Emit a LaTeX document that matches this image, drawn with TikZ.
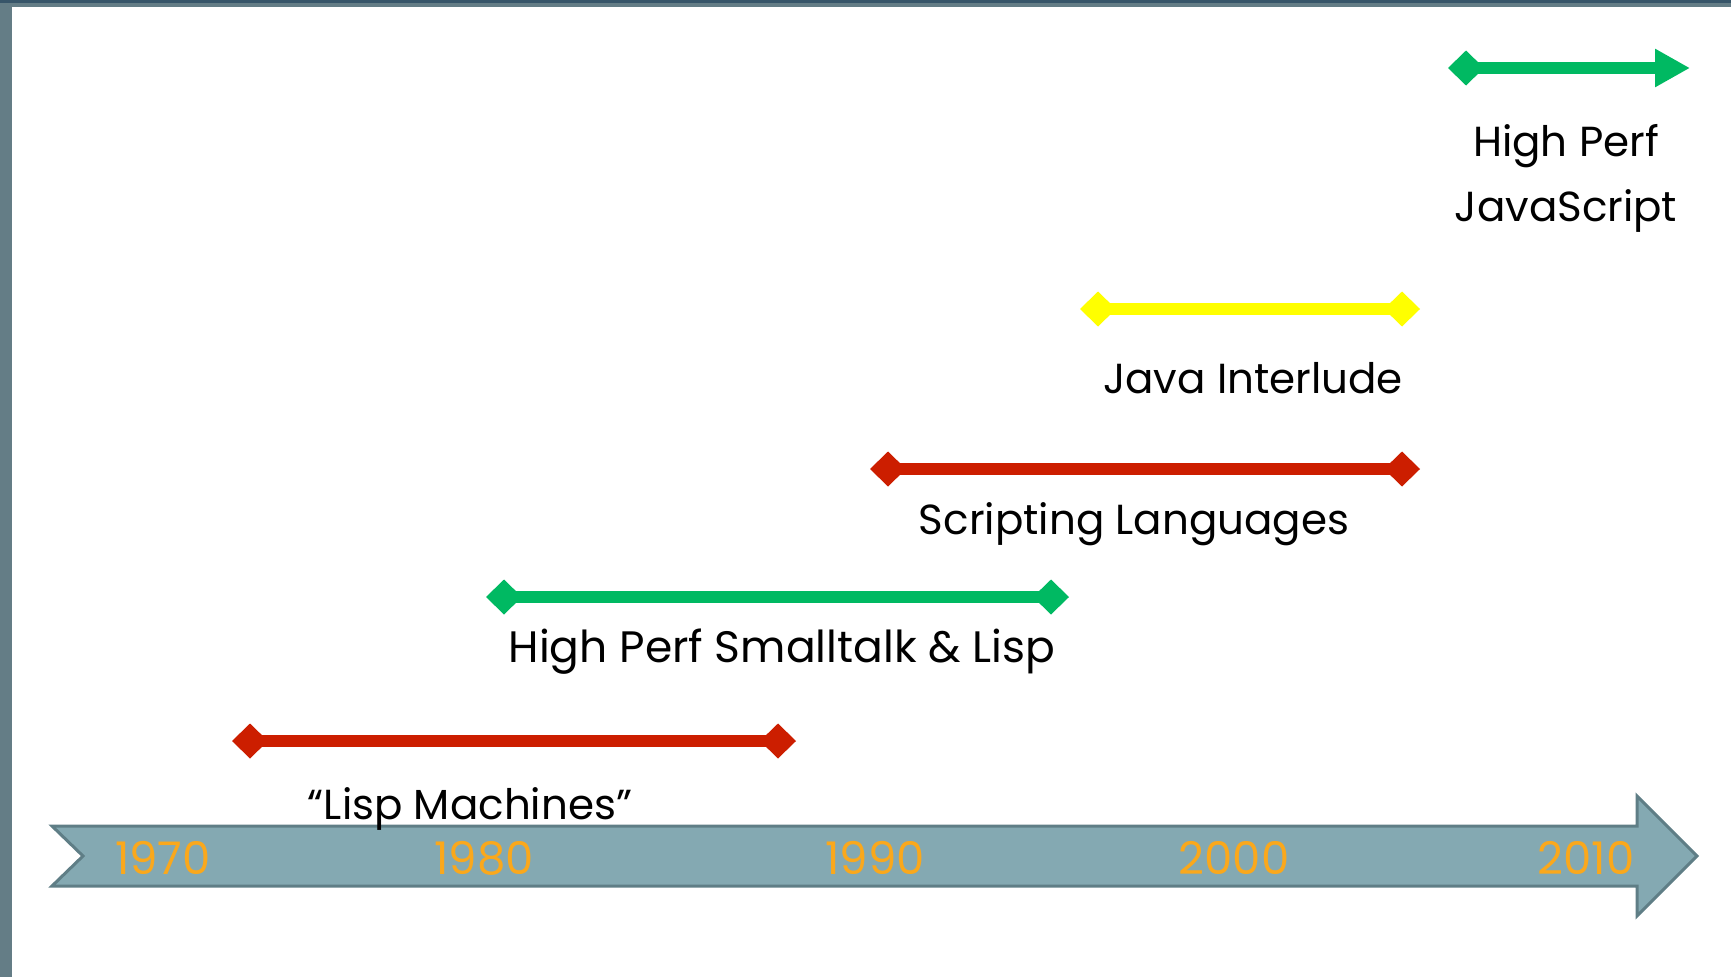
\documentclass[tikz,border=0pt]{standalone}
\usepackage{fontspec}
\setmainfont{Poppins}
\usetikzlibrary{arrows.meta,positioning}

\definecolor{framegray}{RGB}{100,125,134}
\definecolor{framedark}{RGB}{55,85,105}
\definecolor{axisfill}{RGB}{132,169,178}
\definecolor{axisedge}{RGB}{95,126,134}
\definecolor{yearorange}{RGB}{250,168,28}
\definecolor{eragreen}{RGB}{0,185,98}
\definecolor{erared}{RGB}{204,30,0}
\definecolor{erayellow}{RGB}{255,255,0}

\begin{document}
\begin{tikzpicture}[x=1pt, y=-1pt,
    span/.style={line width=12pt, {Diamond[length=36pt,width=35pt]}-{Diamond[length=36pt,width=35pt]}},
    openspan/.style={line width=12pt, {Diamond[length=36pt,width=35pt]}-{Triangle[length=35pt,width=36pt]}},
    era/.style={font=\fontsize{42}{65}\selectfont, anchor=base, align=center, inner sep=0pt},
    year/.style={font=\fontsize{45}{50}\selectfont, text=yearorange, anchor=base, inner sep=0pt}
]
    \useasboundingbox (0,0) rectangle (1731,977);
    % slide frame
    \fill[framegray] (0,0) rectangle (12,977);
    \fill[framegray] (0,0) rectangle (1731,7);
    \fill[framedark] (0,0) rectangle (1731,3);

    % time axis
    \draw[axisedge, fill=axisfill, line width=3pt, line join=miter]
        (52,826) -- (1637,826) -- (1637,796) -- (1697,856) -- (1637,916)
        -- (1637,886) -- (52,886) -- (83,856) -- cycle;
    \foreach \yr/\xpos in {1970/163, 1980/484, 1990/875, 2000/1234, 2010/1586}
        \node[year] (year\yr) at (\xpos,874) {\yr};

    % era ends
    \coordinate (lispL) at (232,741);
    \coordinate (lispR) at (796,741);
    \coordinate (stalkL) at (486,597);
    \coordinate (stalkR) at (1069,597);
    \coordinate (scriptL) at (870,469);
    \coordinate (scriptR) at (1420,469);
    \coordinate (javaL) at (1080,309);
    \coordinate (javaR) at (1420,309);
    \coordinate (jsL) at (1448,68);
    \coordinate (jsR) at (1690,68);

    \draw[span, erared] (lispL) -- (lispR);
    \draw[span, eragreen] (stalkL) -- (stalkR);
    \draw[span, erared] (scriptL) -- (scriptR);
    \draw[span, erayellow] (javaL) -- (javaR);
    \draw[openspan, eragreen] (jsL) -- (jsR);

    % era names
    \node[era] (lisp) at (470,819) {“Lisp Machines”};
    \node[era, font=\fontsize{44}{65}\selectfont] (stalk) at (782,662) {High Perf Smalltalk \& Lisp};
    \node[era] (script) at (1134,534) {Scripting Languages};
    \node[era] (java) at (1253,393) {Java Interlude};
    \node[era] (js) at (1566,221) {High Perf\\JavaScript};
\end{tikzpicture}
\end{document}
